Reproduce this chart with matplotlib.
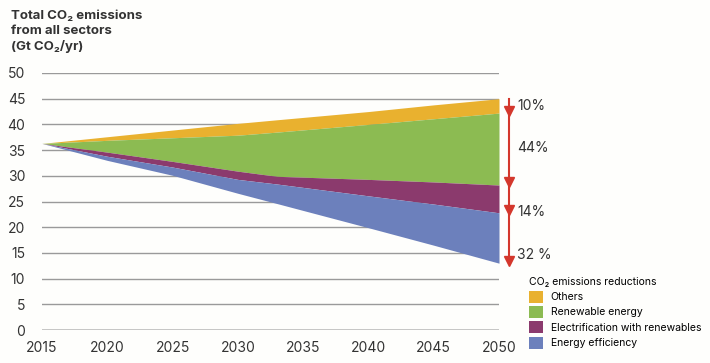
import matplotlib.pyplot as plt
from matplotlib.patches import Patch

plt.rcParams['font.family'] = ['Inter', 'DejaVu Sans']

# scenario years and boundary lines of the stacked areas (Gt CO2/yr)
years = [2015, 2020, 2025, 2030, 2033, 2040, 2045, 2050]
reference = [36.3, 37.6, 38.9, 40.2, 40.9, 42.5, 43.8, 45.0]
after_others = [36.3, 36.9, 37.4, 37.9, 38.5, 40.0, 41.1, 42.2]
after_renewables = [36.3, 34.6, 32.8, 30.9, 29.9, 29.3, 28.8, 28.2]
after_electrification = [36.3, 33.8, 31.7, 29.3, 28.4, 26.1, 24.5, 22.8]
remap = [36.3, 33.0, 30.1, 26.6, 24.6, 19.9, 16.5, 13.0]

labels = ["Others", "Renewable energy", "Electrification with renewables",
          "Energy efficiency"]
colors = ["#E9B12F", "#8CBB52", "#8B3A6D", "#6C80BC"]
shares = ["10%", "44%", "14%", "32 %"]

bounds = [reference, after_others, after_renewables, after_electrification, remap]

fig = plt.figure(figsize=(7.10, 3.63), dpi=100)
fig.patch.set_facecolor("#FEFEFC")
ax = fig.add_axes([42 / 710, 33 / 363, 457 / 710, 257 / 363])
ax.set_facecolor("#FEFEFC")

for y in range(0, 51, 5):
    ax.axhline(y, color="#9A9A9A" if y else "#B5B5B5", lw=1.0 if y else 1.8, zorder=1)

for i in range(4):
    ax.fill_between(years, bounds[i], bounds[i + 1], color=colors[i], lw=0, zorder=2)

ax.set_xlim(2015, 2050)
ax.set_ylim(0, 50)
ax.set_xticks(range(2015, 2051, 5))
ax.set_yticks(range(0, 51, 5))
ax.tick_params(length=0, labelsize=10, colors="#333333")
ax.tick_params(axis="y", pad=12)
ax.tick_params(axis="x", pad=8)
for s in ax.spines.values():
    s.set_visible(False)

# red reduction arrows at the right
xa = 2050.75
ax.plot([xa, xa], [reference[-1], remap[-1]], color="#D4372C", lw=1.5,
        clip_on=False, zorder=3)
tips = [after_others[-1], after_renewables[-1], after_electrification[-1], remap[-1]]
ax.plot([xa] * 4, [t + 0.5 for t in tips], "v", color="#D4372C", ms=7,
        clip_on=False, zorder=3)
label_y = [43.6, 35.5, 23.0, 14.6]
for ly, s in zip(label_y, shares):
    ax.text(2051.4, ly, s, fontsize=10, color="#333333", va="center", ha="left",
            clip_on=False)

fig.text(11 / 710, 1 - 10 / 363, "Total CO₂ emissions\nfrom all sectors\n(Gt CO₂/yr)",
         fontsize=9.5, fontweight="bold", color="#333333", va="top", ha="left",
         linespacing=1.3)

handles = [Patch(facecolor=c, edgecolor="none") for c in colors]
fig.legend(handles, labels, loc="upper left",
           bbox_to_anchor=(525 / 710, 1 - 273 / 363), frameon=False,
           fontsize=7.5, title="CO₂ emissions reductions", title_fontsize=7.5,
           alignment="left", handlelength=1.35, handleheight=1.35,
           labelspacing=0.35, handletextpad=0.7, borderaxespad=0)

fig.savefig("out.png", dpi=100, facecolor=fig.get_facecolor())
